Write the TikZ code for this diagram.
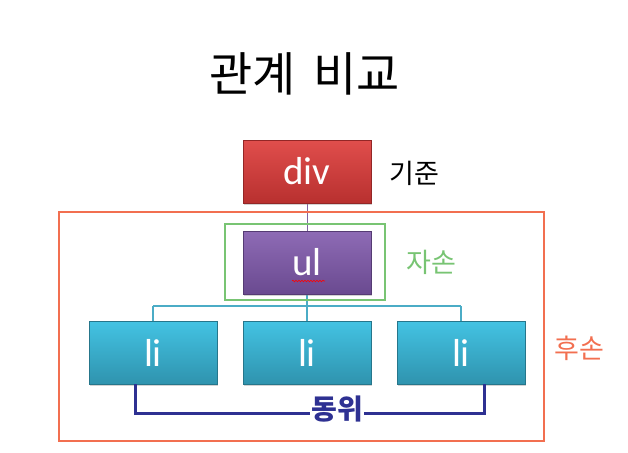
\documentclass[tikz,border=0pt]{standalone}
\usepackage{fontspec}
\setmainfont{Carlito}
\newfontfamily\kr{Noto Sans CJK KR}
\usetikzlibrary{shadows,decorations.pathmorphing}
\definecolor{divtop}{HTML}{E04E4C}
\definecolor{divbot}{HTML}{B8302F}
\definecolor{ultop}{HTML}{8E6BB5}
\definecolor{ulbot}{HTML}{6A4A90}
\definecolor{litop}{HTML}{43C3E3}
\definecolor{libot}{HTML}{2F93AE}
\definecolor{orangeR}{HTML}{F26F50}
\definecolor{greenB}{HTML}{78C473}
\definecolor{tealL}{HTML}{4BACC6}
\definecolor{navy}{HTML}{2E3192}
\definecolor{purpL}{HTML}{8064A2}
\tikzset{
  x=1pt, y=-1pt,
  box/.style={minimum width=128pt, minimum height=63pt, inner sep=0pt,
    text=white, font=\fontsize{39}{44}\selectfont,
    drop shadow={shadow xshift=1pt, shadow yshift=-2pt, opacity=0.35}},
  divbox/.style={box, top color=divtop, bottom color=divbot, draw=divbot!80!black},
  ulbox/.style={box, top color=ultop, bottom color=ulbot, draw=ulbot!80!black},
  libox/.style={box, top color=litop, bottom color=libot, draw=libot!80!black},
  hand/.style={font=\kr\fontsize{27}{30}\selectfont},
}
\begin{document}
\begin{tikzpicture}
\useasboundingbox (0,0) rectangle (628,452);
\node[font=\kr\fontsize{47}{52}\selectfont] (title) at (305,74) {관계\hspace{0.15em} 비교};
% connectors (behind boxes)
\draw[purpL, line width=1pt] (307,203) -- (307,231);
\draw[tealL, line width=1.5pt] (307,295) -- (307,306) (153,306) -- (461,306)
  (153,306) -- (153,321) (307,306) -- (307,321) (461,306) -- (461,321);
% boxes
\node[divbox] (div) at (307,171.5) {div};
\node[ulbox] (ul) at (307,262.5) {ul};
\node[libox] (li1) at (153,352.5) {li};
\node[libox] (li2) at (307,352.5) {li};
\node[libox] (li3) at (461,352.5) {li};
\draw[red, line width=0.6pt, decorate, decoration={snake, amplitude=0.8pt, segment length=3pt}]
  (292,281) -- (325,281);
% frames
\draw[greenB, line width=2.5pt] (225,224) rectangle (385,300);
\draw[orangeR, line width=2.5pt] (59,212) rectangle (544,441);
% sibling connector
\coordinate (s1) at (135,413);
\coordinate (s2) at (484,413);
\draw[navy, line width=3pt] (li1.south -| s1) -- (s1) -- (s2) -- (li3.south -| s2);
\node[fill=white, inner sep=1pt, text=navy, font=\kr\bfseries\fontsize{28}{32}\selectfont] (sib) at (337,409) {동위};
% labels
\node[hand, text=black] (k1) at (414,173) {기준};
\node[hand, text=greenB] (k2) at (431,262) {자손};
\node[hand, text=orangeR] (k3) at (579,348) {후손};
\end{tikzpicture}
\end{document}
